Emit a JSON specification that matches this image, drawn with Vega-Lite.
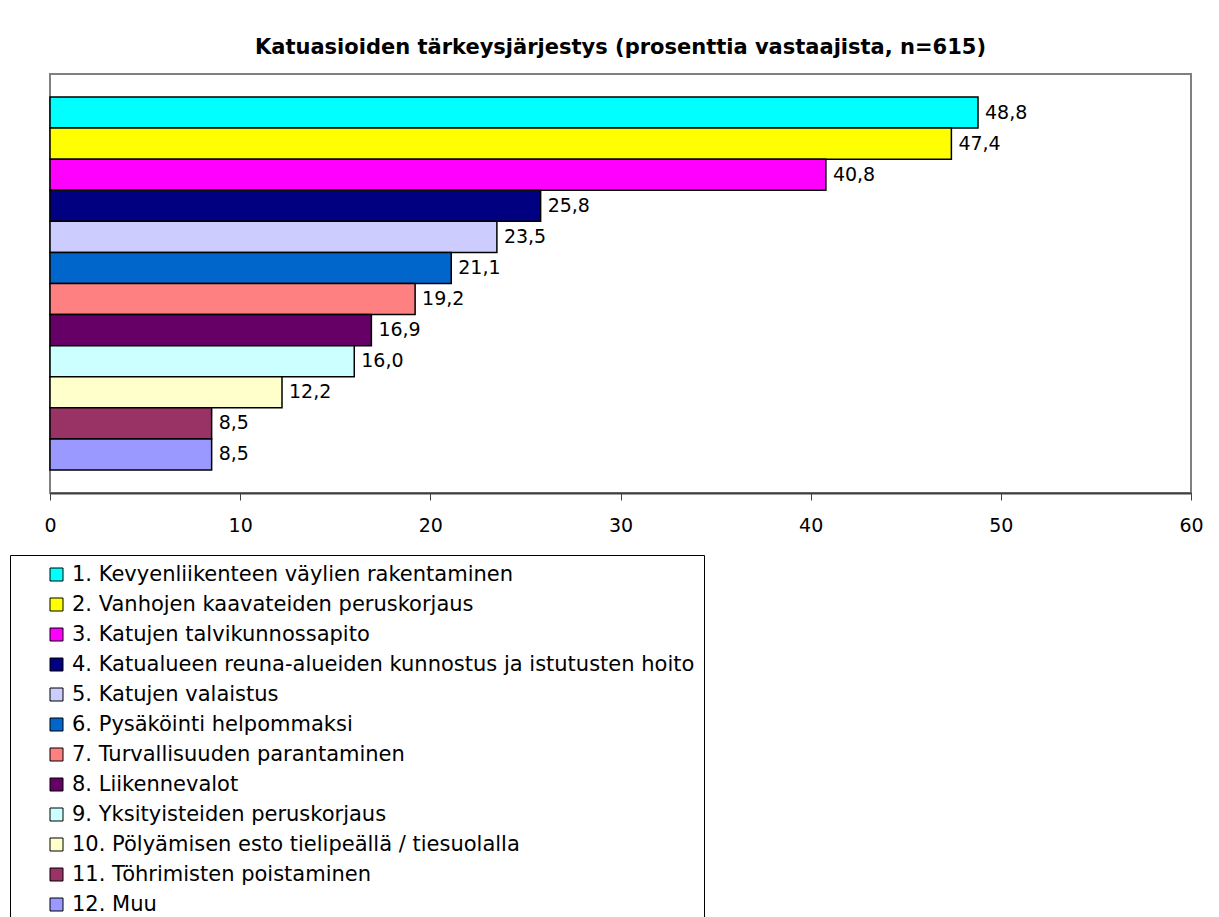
{
  "$schema": "https://vega.github.io/schema/vega-lite/v6.json",
  "autosize": {"type": "none"},
  "padding": {"left": 50, "top": 74, "right": 28, "bottom": 424},
  "width": 1141,
  "height": 419,
  "background": "white",
  "config": {
    "font": "DejaVu Sans",
    "locale": {"number": {"decimal": ",", "thousands": " ", "grouping": [3], "currency": ["", " €"]}},
    "view": {"stroke": "#808080", "strokeWidth": 2}
  },
  "title": {
    "text": "Katuasioiden tärkeysjärjestys (prosenttia vastaajista, n=615)",
    "font": "DejaVu Sans",
    "fontSize": 21,
    "fontWeight": "bold",
    "color": "black",
    "anchor": "middle",
    "offset": 16
  },
  "data": {
    "values": [
      {"item": "1. Kevyenliikenteen väylien rakentaminen", "value": 48.8},
      {"item": "2. Vanhojen kaavateiden peruskorjaus", "value": 47.4},
      {"item": "3. Katujen talvikunnossapito", "value": 40.8},
      {"item": "4. Katualueen reuna-alueiden kunnostus ja istutusten hoito", "value": 25.8},
      {"item": "5. Katujen valaistus", "value": 23.5},
      {"item": "6. Pysäköinti helpommaksi", "value": 21.1},
      {"item": "7. Turvallisuuden parantaminen", "value": 19.2},
      {"item": "8. Liikennevalot", "value": 16.9},
      {"item": "9. Yksityisteiden peruskorjaus", "value": 16.0},
      {"item": "10. Pölyämisen esto tielipeällä / tiesuolalla", "value": 12.2},
      {"item": "11. Töhrimisten poistaminen", "value": 8.5},
      {"item": "12. Muu", "value": 8.5}
    ]
  },
  "encoding": {
    "y": {
      "field": "item",
      "type": "nominal",
      "sort": null,
      "axis": null,
      "scale": {"paddingInner": 0, "paddingOuter": 0.74}
    },
    "x": {
      "field": "value",
      "type": "quantitative",
      "scale": {"domain": [0, 60], "nice": false},
      "axis": {
        "title": null,
        "values": [0, 10, 20, 30, 40, 50, 60],
        "grid": false,
        "domainColor": "#404040",
        "domainWidth": 2,
        "tickColor": "#404040",
        "tickSize": 7,
        "tickWidth": 1,
        "labelFont": "DejaVu Sans",
        "labelFontSize": 19,
        "labelColor": "black",
        "labelPadding": 16,
        "labelFlush": false
      }
    }
  },
  "layer": [
    {
      "mark": {"type": "bar", "stroke": "black", "strokeWidth": 1.5},
      "encoding": {
        "color": {
          "field": "item",
          "type": "nominal",
          "sort": null,
          "scale": {
            "range": ["#00FFFF", "#FFFF00", "#FF00FF", "#000080", "#CCCCFF", "#0066CC", "#FF8080", "#660066", "#CCFFFF", "#FFFFCC", "#993366", "#9999FF"]
          },
          "legend": {
            "title": null,
            "orient": "none",
            "legendX": -40,
            "legendY": 481,
            "direction": "vertical",
            "fillColor": "white",
            "strokeColor": "black",
            "padding": 9,
            "symbolOffset": 27,
            "symbolType": "square",
            "symbolSize": 169,
            "symbolStrokeColor": "black",
            "symbolStrokeWidth": 1,
            "symbolOpacity": 1,
            "labelFont": "DejaVu Sans",
            "labelFontSize": 21,
            "labelColor": "black",
            "labelOffset": 5,
            "labelLimit": 800,
            "rowPadding": 8
          }
        }
      }
    },
    {
      "mark": {"type": "text", "align": "left", "baseline": "middle", "dx": 7, "fontSize": 19, "font": "DejaVu Sans", "color": "black"},
      "encoding": {
        "text": {"field": "value", "type": "quantitative", "format": ".1f"}
      }
    }
  ]
}
